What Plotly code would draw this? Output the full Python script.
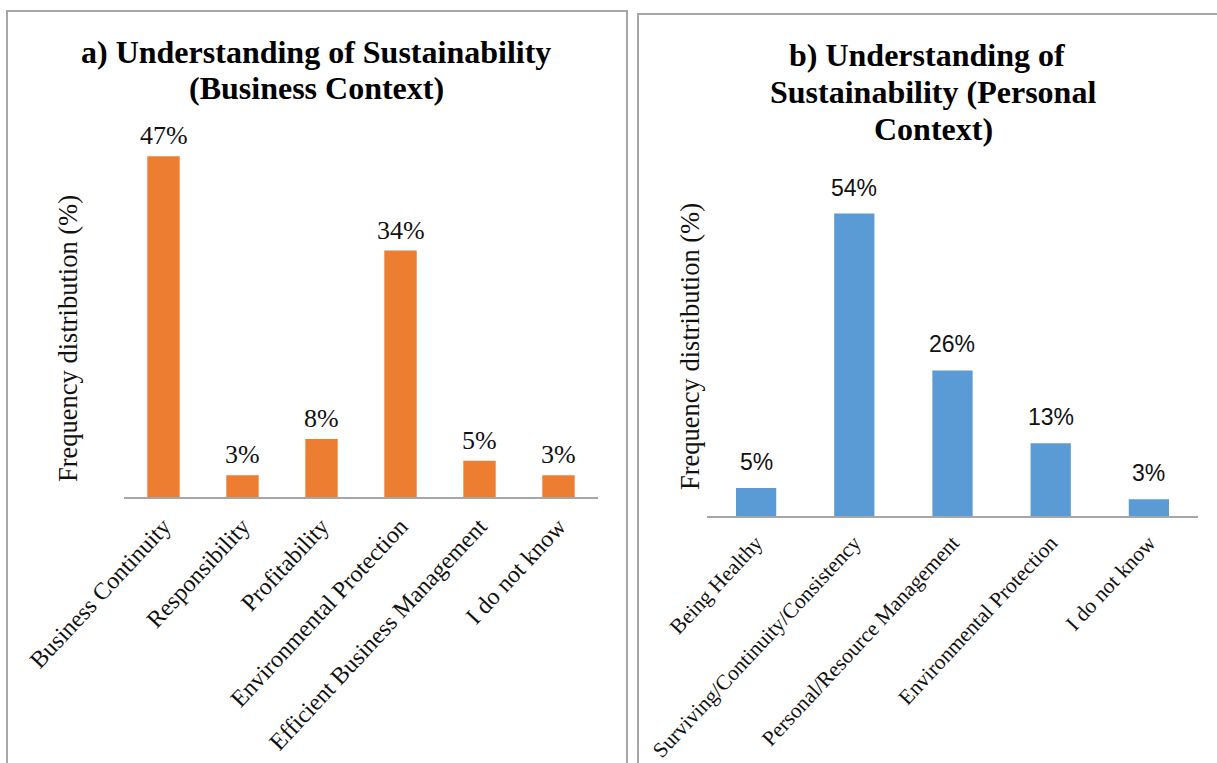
import plotly.graph_objects as go

# Business context responses
business_categories = ["Business Continuity", "Responsibility", "Profitability",
                       "Environmental Protection", "Efficient Business Management",
                       "I do not know"]
business_values = [47, 3, 8, 34, 5, 3]

# Personal context responses
personal_categories = ["Being Healthy", "Surviving/Continuity/Consistency",
                       "Personal/Resource Management", "Environmental Protection",
                       "I do not know"]
personal_values = [5, 54, 26, 13, 3]

W, H = 1217, 763
SERIF = "Liberation Serif, Times New Roman, serif"
SANS = "Liberation Sans, Arial, sans-serif"


def px_x(p):
    return p / W


def px_y(p):
    return (H - p) / H


fig = go.Figure()

fig.add_trace(go.Bar(
    x=business_categories, y=business_values,
    marker=dict(color="#ED7D31", line=dict(width=0)),
    xaxis="x", yaxis="y", showlegend=False,
))

fig.add_trace(go.Bar(
    x=personal_categories, y=personal_values,
    marker=dict(color="#5B9BD5", line=dict(width=0)),
    xaxis="x2", yaxis="y2", showlegend=False,
))


def axis_style(font_size):
    return dict(showline=True, linecolor="#a6a6a6", linewidth=1.5,
                ticks="", showgrid=False, zeroline=False, automargin=False,
                tickangle=-47, ticklabelstandoff=4,
                tickfont=dict(family=SERIF, size=font_size, color="#111111"))


# left panel: baseline at 497px, 7.25 px per percent
left_top = 120
fig.update_layout(
    xaxis=dict(domain=[px_x(124), px_x(598)], anchor="y", **axis_style(24)),
    yaxis=dict(domain=[px_y(497), px_y(left_top)], range=[0, (497 - left_top) / 7.25],
               visible=False, anchor="x", automargin=False),
)

# right panel: baseline at 516px, 5.6 px per percent
right_top = 180
fig.update_layout(
    xaxis2=dict(domain=[px_x(707), px_x(1198)], anchor="y2", **axis_style(21.5)),
    yaxis2=dict(domain=[px_y(516), px_y(right_top)], range=[0, (516 - right_top) / 5.6],
                visible=False, anchor="x2", automargin=False),
)

fig.update_layout(bargap=0.59)

annotations = []

# value labels above each bar
for cat, val in zip(business_categories, business_values):
    annotations.append(dict(text=f"{val}%", x=cat, y=val, xref="x", yref="y",
                            xanchor="center", yanchor="bottom", yshift=4,
                            showarrow=False,
                            font=dict(family=SERIF, size=26, color="#111111")))
for cat, val in zip(personal_categories, personal_values):
    annotations.append(dict(text=f"{val}%", x=cat, y=val, xref="x2", yref="y2",
                            xanchor="center", yanchor="bottom", yshift=11,
                            showarrow=False,
                            font=dict(family=SANS, size=23, color="#111111")))

title_font = dict(family=SERIF, size=32, color="#000000")
for text, cx, cy in [
    ("<b>a) Understanding of Sustainability</b>", 316, 52),
    ("<b>(Business Context)</b>", 316, 88),
    ("<b>b) Understanding of</b>", 927, 55),
    ("<b>Sustainability (Personal</b>", 933, 92),
    ("<b>Context)</b>", 933, 129),
]:
    annotations.append(dict(text=text, x=px_x(cx), y=px_y(cy), xref="paper", yref="paper",
                            xanchor="center", yanchor="middle", showarrow=False,
                            font=title_font))

for cx, cy in [(68, 339), (690, 347)]:
    annotations.append(dict(text="Frequency distribution (%)", x=px_x(cx), y=px_y(cy),
                            xref="paper", yref="paper", xanchor="center", yanchor="middle",
                            textangle=-90, showarrow=False,
                            font=dict(family=SERIF, size=26.5, color="#111111")))

shapes = [
    dict(type="rect", xref="paper", yref="paper",
         x0=px_x(7), x1=px_x(627), y0=-0.2, y1=px_y(11),
         line=dict(color="#a6a6a6", width=2)),
    dict(type="rect", xref="paper", yref="paper",
         x0=px_x(638), x1=1.2, y0=-0.2, y1=px_y(14),
         line=dict(color="#a6a6a6", width=2)),
]

fig.update_layout(
    width=W, height=H,
    margin=dict(l=0, r=0, t=0, b=0, autoexpand=False),
    paper_bgcolor="white", plot_bgcolor="white",
    annotations=annotations, shapes=shapes,
)

fig.write_html("out.html")
